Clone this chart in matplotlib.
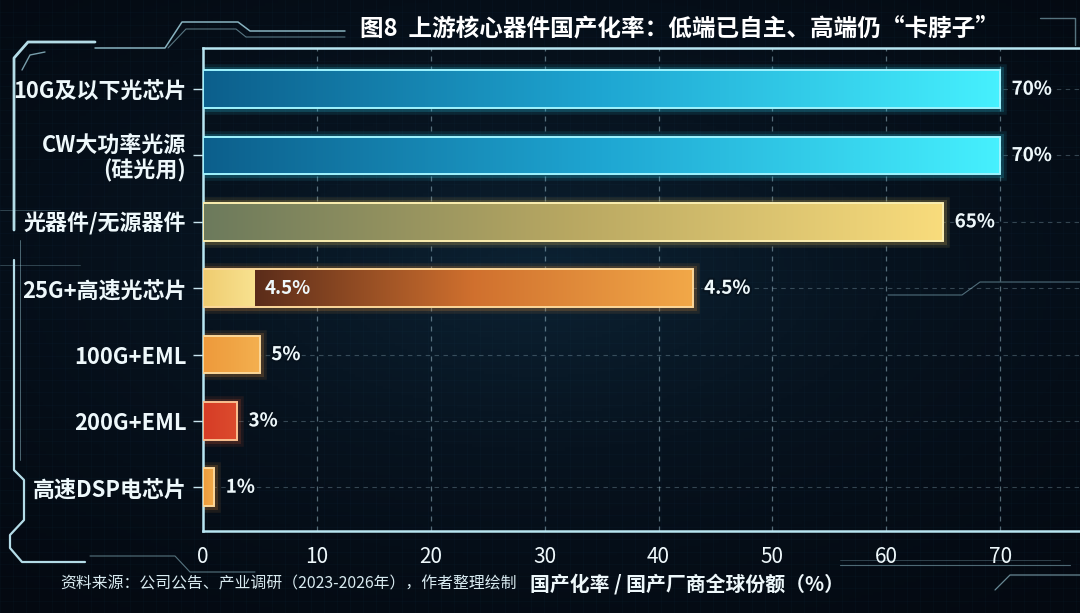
import numpy as np
import matplotlib
matplotlib.use("Agg")
import matplotlib.pyplot as plt
from matplotlib.colors import LinearSegmentedColormap
from matplotlib.patches import Rectangle
import matplotlib.patheffects as pe

plt.rcParams['font.family'] = ['Noto Sans CJK SC', 'DejaVu Sans']

# ── Data ─────────────────────────────────────────────────────────────────────
categories = ["10G及以下光芯片", "CW大功率光源\n(硅光用)", "光器件/无源器件",
              "25G+高速光芯片", "100G+EML", "200G+EML", "高速DSP电芯片"]
bar_len    = [70, 70, 65, 43, 5, 3, 1]          # drawn bar length
value_txt  = ["70%", "70%", "65%", "4.5%", "5%", "3%", "1%"]
inner_seg  = [0, 0, 0, 4.5, 0, 0, 0]           # light inner segment (25G)
inner_txt  = ["", "", "", "4.5%", "", "", ""]
xticks     = [0, 10, 20, 30, 40, 50, 60, 70]

title   = "图8  上游核心器件国产化率：低端已自主、高端仍“卡脖子”"
xlabel  = "国产化率 / 国产厂商全球份额（%）"
source  = "资料来源：公司公告、产业调研（2023-2026年），作者整理绘制"

# gradient colour stops per bar (left -> right) and edge colour
grad_cols = [
    ["#0c5f8c", "#1ea6d2", "#46f0fe"],
    ["#0c5f8c", "#1ea6d2", "#46f0fe"],
    ["#6c7a5c", "#b9a862", "#f9dc7c"],
    ["#5a2c1a", "#d0702e", "#f2a848"],
    ["#ee9a3c", "#f0a444", "#f4b050"],
    ["#d63c26", "#d9442a", "#dc4c2e"],
    ["#ec9a3c", "#f0a444", "#f2ac4c"],
]
edge_cols = ["#9ff4ff", "#9ff4ff", "#fbeeb0", "#fcd89a", "#fcd89a", "#f8c090", "#fcd89a"]
glow_cols = ["#2fd8f8", "#2fd8f8", "#f0c860", "#f09a40", "#f09a40", "#e05a30", "#f09a40"]

TXT = "#eef8fb"
LINE = "#a9dcea"

fig = plt.figure(figsize=(10.8, 6.13), dpi=100)
fig.patch.set_facecolor("#050b14")

# ── Background glow ──────────────────────────────────────────────────────────
bg = fig.add_axes([0, 0, 1, 1], zorder=-10)
yy, xx = np.mgrid[0:1:200j, 0:1:350j]
r = np.sqrt(((xx - 0.5) / 0.9) ** 2 + ((yy - 0.55) / 0.8) ** 2)
glow = np.clip(1 - r, 0, 1) ** 1.5
bg_cmap = LinearSegmentedColormap.from_list("bg", ["#040911", "#07131f", "#0c2233"])
bg.imshow(glow, cmap=bg_cmap, aspect="auto", extent=(0, 1, 0, 1), origin="lower")
for gx in np.arange(0.0, 1.0, 0.012):
    bg.axvline(gx, color="#1a4a66", lw=0.4, alpha=0.12)
for gy in np.arange(0.0, 1.0, 0.02):
    bg.axhline(gy, color="#1a4a66", lw=0.4, alpha=0.12)
bg.set_xlim(0, 1)
bg.set_ylim(0, 1)
bg.axis("off")

# HUD decoration lines (figure pixel coords -> fraction)
def hud(points, lw=1.2, color=LINE, alpha=0.9):
    px = np.array(points, dtype=float)
    bg.plot(px[:, 0] / 1080, 1 - px[:, 1] / 613, color=color, lw=lw,
            alpha=alpha, solid_capstyle="round")

hud([(14, 230), (14, 58), (28, 42), (95, 42)], lw=2.0, color="#c8f4ff")
hud([(22, 70), (30, 55), (45, 52)], lw=1.0, alpha=0.7)
hud([(95, 48), (165, 48), (182, 22), (238, 22), (250, 31), (345, 31)], lw=1.1, alpha=0.8)
hud([(168, 48), (186, 29), (236, 29), (246, 37), (345, 37)], lw=0.8, alpha=0.5)
hud([(14, 260), (14, 470), (24, 480), (24, 520), (10, 535), (10, 548), (22, 562), (85, 562)],
    lw=1.6, color="#c8f4ff")
hud([(20, 240), (20, 460)], lw=0.6, alpha=0.5)
hud([(0, 210), (60, 210)], lw=0.6, alpha=0.3)
hud([(0, 265), (80, 265)], lw=0.6, alpha=0.3)
hud([(90, 556), (175, 556), (190, 572), (255, 572)], lw=0.8, alpha=0.5)
hud([(840, 565), (1070, 565)], lw=0.8, alpha=0.45)
hud([(840, 560), (1060, 560)], lw=0.6, alpha=0.3)
hud([(995, 590), (1010, 575), (1080, 575)], lw=0.9, alpha=0.6)
hud([(888, 295), (962, 295), (980, 282), (1080, 282)], lw=0.8, alpha=0.45)
hud([(1040, 18), (1075, 18), (1075, 45)], lw=1.0, alpha=0.5)

# ── Main axes ────────────────────────────────────────────────────────────────
ax = fig.add_axes([203 / 1080, 1 - 531 / 613, 1 - 203 / 1080, (531 - 48) / 613])
ax.set_facecolor("none")

ypos = np.arange(len(categories))
bar_h = 0.57

for x in xticks[1:]:
    ax.axvline(x, color="#a4c6d4", lw=0.9, ls=(0, (4, 4)), alpha=0.5, zorder=1)
for y in ypos:
    ax.axhline(y, color="#a4c6d4", lw=0.8, ls=(0, (4, 4)), alpha=0.3, zorder=1)

for i, y in enumerate(ypos):
    x0 = inner_seg[i]
    x1 = bar_len[i]
    top, bot = y - bar_h / 2, y + bar_h / 2

    # glow behind the bar
    for lw, a in [(9, 0.10), (5, 0.18)]:
        ax.add_patch(Rectangle((0, top), x1, bar_h, facecolor="none",
                               edgecolor=glow_cols[i], lw=lw, alpha=a, zorder=2))

    cmap = LinearSegmentedColormap.from_list(f"g{i}", grad_cols[i])
    rect = Rectangle((x0, top), x1 - x0, bar_h, facecolor="none", edgecolor="none")
    ax.add_patch(rect)
    im = ax.imshow(np.linspace(0, 1, 256).reshape(1, -1), cmap=cmap, aspect="auto",
                   extent=(x0, x1, bot, top), zorder=3, interpolation="bicubic")
    im.set_clip_path(rect)

    if inner_seg[i] > 0:
        icmap = LinearSegmentedColormap.from_list(f"in{i}", ["#efcc70", "#f8e290"])
        irect = Rectangle((0, top), inner_seg[i], bar_h, facecolor="none", edgecolor="none")
        ax.add_patch(irect)
        iim = ax.imshow(np.linspace(0, 1, 64).reshape(1, -1), cmap=icmap, aspect="auto",
                        extent=(0, inner_seg[i], bot, top), zorder=3)
        iim.set_clip_path(irect)
        ax.text(inner_seg[i] + 0.9, y, inner_txt[i], color=TXT, fontsize=13.5,
                fontweight="bold", va="center", ha="left", zorder=5)

    ax.add_patch(Rectangle((0, top), x1, bar_h, facecolor="none",
                           edgecolor=edge_cols[i], lw=1.4, zorder=4))

    ax.text(x1 + 1.0, y, value_txt[i], color=TXT, fontsize=13.5,
            fontweight="bold", va="center", ha="left", zorder=5,
            path_effects=[pe.withStroke(linewidth=3, foreground="#06101a", alpha=0.6)])

ax.set_xlim(0, 77)
ax.set_ylim(6.66, -0.62)

ax.set_yticks(ypos)
ax.set_yticklabels(categories, fontsize=15.8, color=TXT, fontweight="bold",
                   multialignment="right", linespacing=1.05)
ax.set_xticks(xticks)
ax.set_xticklabels([str(t) for t in xticks], fontsize=15, color=TXT)
ax.tick_params(axis="y", length=7, width=1, color="#c8e4ee", pad=5)
ax.tick_params(axis="x", length=0, pad=11)

for side in ["left", "top", "bottom"]:
    ax.spines[side].set_color("#b8e6f2")
    ax.spines[side].set_linewidth(1.8)
ax.spines["right"].set_visible(False)

# ── Texts ────────────────────────────────────────────────────────────────────
fig.text(360 / 1080, 1 - 28 / 613, title, color="white", fontsize=17,
         fontweight="bold", ha="left", va="center")
fig.text(60 / 1080, 1 - 584 / 613, source, color="#d8eaf0", fontsize=11.4,
         ha="left", va="center")
fig.text(530 / 1080, 1 - 584 / 613, xlabel, color=TXT, fontsize=14.3,
         fontweight="bold", ha="left", va="center")

fig.savefig("out.png", dpi=100, facecolor=fig.get_facecolor())
